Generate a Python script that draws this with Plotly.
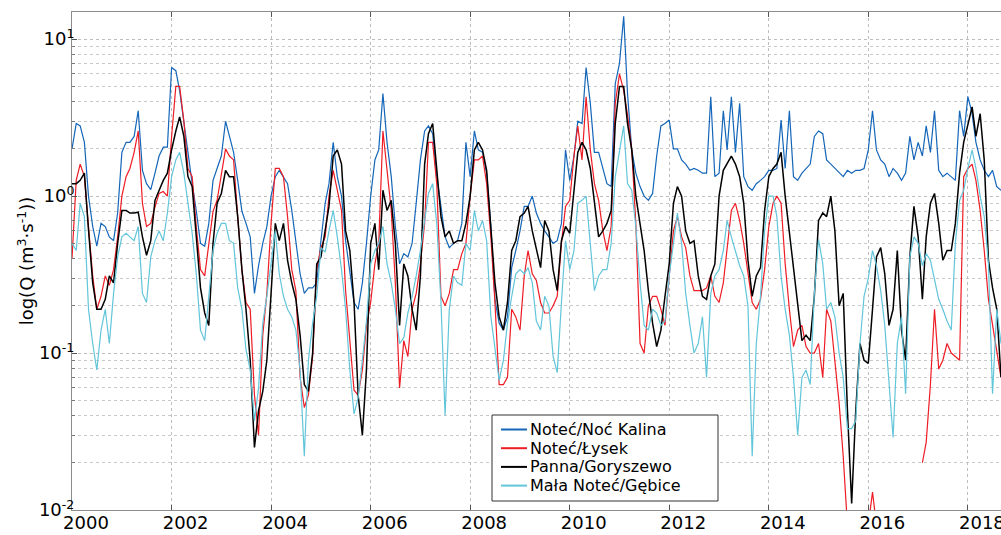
import pandas as pd
import plotly.graph_objects as go

# Monthly discharge values Q [m3/s], Jan 2000 .. Sep 2018 (one row per year)
kalina = [
    2.0, 2.9, 2.8, 2.2, 1.0, 0.64, 0.48, 0.67, 0.64, 0.55, 0.52, 0.78,
    1.9, 2.2, 2.2, 2.4, 3.5, 1.46, 1.2, 1.1, 1.4, 1.8, 2.05, 2.05,
    6.6, 6.3, 4.7, 3.0, 1.8, 1.2, 0.81, 0.5, 0.48, 0.67, 1.26, 1.5,
    1.8, 3.0, 2.4, 1.9, 1.26, 0.8, 0.67, 0.55, 0.24, 0.36, 0.5, 0.64,
    1.0, 1.33, 1.46, 1.33, 1.2, 0.81, 0.52, 0.32, 0.24, 0.26, 0.26, 0.28,
    0.52, 0.9, 1.2, 2.2, 1.33, 1.0, 0.52, 0.34, 0.21, 0.19, 0.28, 0.5,
    1.0, 1.7, 1.97, 4.5, 2.2, 1.33, 0.64, 0.37, 0.43, 0.41, 0.5, 0.9,
    1.7, 2.6, 2.8, 2.5, 1.33, 0.86, 0.55, 0.47, 0.5, 0.52, 0.67, 2.2,
    1.33, 2.6, 1.97, 1.9, 1.4, 0.64, 0.22, 0.155, 0.14, 0.17, 0.35, 0.45,
    0.6, 0.86, 0.86, 1.0, 0.78, 0.67, 0.6, 0.55, 0.5, 0.52, 0.67, 1.97,
    1.26, 1.8, 3.0, 2.9, 6.6, 3.9, 1.9, 1.9, 1.5, 1.2, 1.15, 5.2,
    7.0, 14.0, 4.5, 1.97, 1.4, 1.15, 1.0, 0.94, 1.04, 1.8, 2.8, 2.9,
    3.05, 2.0, 2.0, 1.7, 1.6, 1.46, 1.5, 1.46, 1.4, 1.4, 4.3, 1.33,
    1.4, 3.5, 1.97, 4.3, 1.9, 3.9, 1.33, 1.15, 1.09, 1.2, 1.26, 1.33,
    1.46, 1.46, 1.5, 3.05, 1.5, 3.5, 1.33, 1.26, 1.4, 1.5, 1.6, 2.4,
    2.6, 2.5, 1.7, 1.6, 1.5, 1.4, 1.33, 1.46, 1.4, 1.46, 1.46, 1.5,
    1.97, 3.5, 1.97, 1.7, 1.6, 1.33, 1.5, 1.4, 1.26, 1.4, 2.4, 1.7,
    2.2, 1.8, 2.8, 1.9, 3.5, 1.46, 1.33, 1.4, 1.33, 1.26, 3.5, 2.4,
    4.3, 3.35, 2.2, 1.7, 1.46, 1.33, 1.46, 1.15, 1.09,
]

lysek = [
    0.4, 1.26, 1.6, 1.33, 0.64, 0.31, 0.19, 0.23, 0.31, 0.27, 0.34, 0.55,
    1.0, 1.33, 1.5, 1.9, 2.6, 0.9, 0.64, 0.67, 0.85, 1.04, 1.07, 1.0,
    2.4, 5.0, 5.0, 3.0, 1.5, 1.33, 0.64, 0.34, 0.31, 0.5, 0.8, 0.94,
    1.33, 2.0, 1.8, 1.7, 0.74, 0.34, 0.21, 0.19, 0.054, 0.03, 0.13, 0.24,
    0.67, 1.5, 1.5, 1.33, 0.74, 0.34, 0.25, 0.07, 0.045, 0.054, 0.095, 0.34,
    0.47, 0.55, 1.0, 1.46, 1.09, 0.81, 0.25, 0.115, 0.058, 0.054, 0.078, 0.15,
    0.21, 0.37, 0.5, 2.6, 1.46, 0.81, 0.28, 0.06, 0.12, 0.095, 0.19, 0.24,
    0.37, 0.67, 2.2, 2.2, 1.2, 0.23, 0.2, 0.24, 0.34, 0.34, 0.43, 0.5,
    1.0, 1.7, 1.7, 1.8, 1.2, 0.55, 0.21, 0.063, 0.063, 0.07, 0.19, 0.17,
    0.14, 0.31, 0.45, 0.32, 0.29, 0.21, 0.18, 0.18, 0.2, 0.23, 0.5, 0.86,
    0.94, 1.8, 2.8, 1.7, 4.3, 1.97, 1.2, 0.94, 0.6, 0.45, 0.64, 3.9,
    6.0, 4.7, 3.3, 1.97, 0.67, 0.115, 0.1, 0.2, 0.23, 0.23, 0.19, 0.15,
    0.31, 0.6, 0.74, 0.55, 0.47, 0.31, 0.25, 0.25, 0.25, 0.26, 0.31, 0.23,
    0.21, 0.28, 0.47, 0.81, 0.9, 0.7, 0.5, 0.32, 0.21, 0.19, 0.22, 0.34,
    0.64, 0.9, 1.0, 0.9, 0.37, 0.19, 0.11, 0.14, 0.15, 0.11, 0.1, 0.1,
    0.115, 0.07, 0.19, 0.16, 0.086, 0.048, 0.022, 0.008, None, None, None, None,
    0.008, 0.013, 0.008, None, None, None, None, None, None, None, None, None,
    None, 0.02, 0.027, 0.063, 0.19, 0.079, 0.09, 0.115, 0.1, 0.095, 0.09, 1.33,
    1.5, 1.6, 1.26, 0.81, 0.45, 0.22, 0.15, 0.1, 0.07,
]

goryszewo = [
    1.2, 1.2, 1.26, 1.4, 0.61, 0.28, 0.19, 0.19, 0.22, 0.31, 0.28, 0.5,
    0.81, 0.81, 0.78, 0.78, 0.79, 0.55, 0.42, 0.52, 0.94, 1.09, 1.26, 1.4,
    1.97, 2.6, 3.2, 2.4, 1.33, 1.15, 0.55, 0.26, 0.18, 0.15, 0.5, 0.9,
    1.04, 1.46, 1.33, 1.33, 0.74, 0.34, 0.19, 0.09, 0.025, 0.043, 0.057, 0.09,
    0.24, 0.67, 0.52, 0.67, 0.39, 0.28, 0.22, 0.13, 0.063, 0.057, 0.1, 0.37,
    0.41, 0.6, 0.86, 1.8, 1.97, 1.6, 0.6, 0.45, 0.21, 0.054, 0.03, 0.078,
    0.5, 0.67, 0.34, 1.09, 0.81, 0.94, 0.5, 0.15, 0.37, 0.31, 0.19, 0.14,
    0.31, 1.6, 2.5, 2.9, 1.46, 0.74, 0.55, 0.6, 0.5, 0.52, 0.52, 0.67,
    1.0, 1.97, 2.2, 1.97, 1.46, 0.64, 0.28, 0.17, 0.14, 0.21, 0.45, 0.52,
    0.74, 0.78, 0.86, 0.6, 0.45, 0.35, 0.7, 0.6, 0.34, 0.25, 0.52, 0.64,
    0.58, 1.09, 1.9, 2.2, 1.97, 1.5, 0.9, 0.55, 0.6, 0.67, 0.81, 2.9,
    5.0, 5.0, 2.9, 1.97, 1.0, 0.67, 0.45, 0.25, 0.155, 0.11, 0.14, 0.23,
    0.37, 0.9, 1.15, 1.0, 0.6, 0.5, 0.52, 0.31, 0.23, 0.22, 0.31, 0.37,
    1.0, 1.46, 1.6, 1.8, 1.6, 1.33, 0.9, 0.39, 0.23, 0.31, 0.35, 0.81,
    1.33, 1.5, 1.6, 1.9, 1.0, 0.6, 0.35, 0.21, 0.12, 0.13, 0.12, 0.23,
    0.7, 0.78, 0.74, 1.0, 0.6, 0.2, 0.24, 0.043, 0.011, 0.043, 0.115, 0.09,
    0.086, 0.19, 0.41, 0.47, 0.32, 0.15, 0.19, 0.45, 0.14, 0.09, 0.41, 0.86,
    0.55, 0.22, 0.55, 0.9, 1.04, 0.67, 0.39, 0.45, 0.45, 0.67, 1.4, 2.2,
    2.9, 3.7, 2.4, 3.35, 1.7, 0.39, 0.26, 0.19, 0.07,
]

gebice = [
    0.5, 0.45, 0.9, 0.74, 0.19, 0.115, 0.078, 0.14, 0.19, 0.115, 0.24, 0.41,
    0.55, 0.58, 0.55, 0.52, 0.64, 0.24, 0.21, 0.41, 0.52, 0.6, 0.52, 0.78,
    1.33, 1.7, 1.9, 1.4, 0.9, 0.58, 0.32, 0.14, 0.12, 0.24, 0.45, 0.58,
    0.67, 0.67, 0.52, 0.5, 0.26, 0.19, 0.105, 0.078, 0.037, 0.06, 0.155, 0.23,
    0.37, 0.6, 0.32, 0.23, 0.19, 0.17, 0.14, 0.078, 0.022, 0.09, 0.155, 0.23,
    0.47, 0.44, 0.6, 0.81, 0.55, 0.34, 0.19, 0.078, 0.041, 0.052, 0.09, 0.16,
    0.37, 0.45, 0.5, 0.64, 0.37, 0.28, 0.19, 0.115, 0.125, 0.18, 0.23, 0.31,
    0.45, 0.7, 1.04, 1.2, 0.67, 0.21, 0.04, 0.19, 0.31, 0.28, 0.27, 0.5,
    0.45, 0.81, 0.6, 0.7, 0.52, 0.17, 0.105, 0.067, 0.09, 0.155, 0.23, 0.32,
    0.34, 0.32, 0.35, 0.28, 0.16, 0.14, 0.23, 0.2, 0.095, 0.075, 0.21, 0.52,
    0.34, 0.45, 0.9, 0.94, 1.0, 0.5, 0.25, 0.31, 0.34, 0.34, 0.5, 1.33,
    1.9, 2.8, 1.2, 1.09, 0.64, 0.28, 0.15, 0.14, 0.19, 0.18, 0.15, 0.16,
    0.31, 0.5, 0.78, 0.5, 0.24, 0.15, 0.1, 0.115, 0.17, 0.07, 0.24, 0.31,
    0.34, 0.45, 0.7, 0.55, 0.45, 0.36, 0.31, 0.2, 0.022, 0.115, 0.23, 0.6,
    1.0, 1.0, 0.74, 0.31, 0.19, 0.13, 0.07, 0.03, 0.07, 0.078, 0.063, 0.24,
    0.53, 0.37, 0.19, 0.21, 0.17, 0.1, 0.07, 0.033, 0.033, 0.037, 0.115, 0.23,
    0.3, 0.45, 0.36, 0.25, 0.15, 0.063, 0.029, 0.115, 0.17, 0.055, 0.41, 0.55,
    0.5, 0.36, 0.43, 0.39, 0.29, 0.22, 0.19, 0.16, 0.14, 0.5, 0.94, 1.09,
    1.5, 1.97, 1.5, 1.0, 0.74, 0.37, 0.055, 0.19, 0.115,
]

series_names = ["Noteć/Noć Kalina", "Noteć/Łysek", "Panna/Goryszewo", "Mała Noteć/Gębice"]
series_values = [kalina, lysek, goryszewo, gebice]
tick_years = [2000, 2002, 2004, 2006, 2008, 2010, 2012, 2014, 2016, 2018]
y_tick_values = [0.01, 0.1, 1, 10]
y_tick_labels = ["10<sup>-2</sup>", "10<sup>-1</sup>", "10<sup>0</sup>", "10<sup>1</sup>"]

for v in series_values:
    assert len(v) == 225, len(v)

colors = ["#1466b8", "#ee1c24", "#000000", "#62c5da"]
widths = [1.2, 1.2, 1.5, 1.2]
FONT = "DejaVu Sans"

dates = pd.date_range("2000-01-01", periods=len(kalina), freq="MS")

fig = go.Figure()
for name, vals, col, w in zip(series_names, series_values, colors, widths):
    fig.add_trace(go.Scatter(x=dates, y=vals, mode="lines", name=name,
                             line=dict(color=col, width=w),
                             connectgaps=False, showlegend=False))

minor_vals = [m * 10.0 ** e for e in (-2, -1, 0, 1) for m in range(2, 10)]

W, H = 1001, 535
ML, MT, MR, MB = 72, 12, 0, 25
plot_w = W - ML - MR
plot_h = H - MT - MB

fig.update_layout(
    width=W, height=H,
    margin=dict(l=ML, r=MR, t=MT, b=MB, autoexpand=False),
    paper_bgcolor="white", plot_bgcolor="white",
    font=dict(family=FONT, size=18, color="black"),
    xaxis=dict(
        type="date", range=["2000-01-01", "2018-09-01"],
        tickvals=[f"{y}-01-01" for y in tick_years],
        ticktext=[str(y) for y in tick_years],
        showgrid=True, gridcolor="#bdbdbd", griddash="dot", gridwidth=1,
        showline=True, linecolor="#8c8c8c", linewidth=1, mirror="ticks",
        ticks="inside", ticklen=5, tickcolor="#555555",
        tickfont=dict(family=FONT, size=18), zeroline=False,
        ticklabelshift=14, ticklabelstandoff=-4, ticklabeloverflow="allow",
    ),
    yaxis=dict(
        type="log", range=[-2, 1.173],
        tickvals=y_tick_values, ticktext=y_tick_labels,
        showgrid=True, gridcolor="#bdbdbd", griddash="dot", gridwidth=1,
        showline=True, linecolor="#8c8c8c", linewidth=1,
        ticks="inside", ticklen=5, tickcolor="#555555",
        tickfont=dict(family=FONT, size=18),
        ticklabelstandoff=-7,
        minor=dict(tickvals=minor_vals, ticks="inside", ticklen=3,
                   tickcolor="#777777", showgrid=True,
                   gridcolor="#c8c8c8", griddash="dot", gridwidth=1),
        title=dict(text="log(Q (m<sup>3</sup>·s<sup>-1</sup>))",
                   font=dict(family=FONT, size=18), standoff=0),
        zeroline=False,
    ),
)

# Legend box (positions given in page pixels, converted to paper coordinates)
def px_x(px):
    return (px - ML) / plot_w

def px_y(py):
    return (H - MB - py) / plot_h

fig.add_shape(type="rect", xref="paper", yref="paper",
              x0=px_x(492), x1=px_x(718), y0=px_y(501), y1=px_y(415),
              line=dict(color="#333333", width=1), fillcolor="white", layer="above")
row_y = [429.5, 448.2, 466.9, 485.6]
for name, col, ry in zip(series_names, colors, row_y):
    fig.add_shape(type="line", xref="paper", yref="paper",
                  x0=px_x(501), x1=px_x(527), y0=px_y(ry), y1=px_y(ry),
                  line=dict(color=col, width=2), layer="above")
    fig.add_annotation(xref="paper", yref="paper", x=px_x(528), y=px_y(ry),
                       text=name, showarrow=False, xanchor="left", yanchor="middle",
                       font=dict(family=FONT, size=16, color="black"))

# remove the browser's default 8px page margin so the figure fills the window exactly
fig.write_html(
    "out.html",
    config={"displayModeBar": False},
    post_script="document.body.style.margin='0';document.body.style.overflow='hidden';",
)
